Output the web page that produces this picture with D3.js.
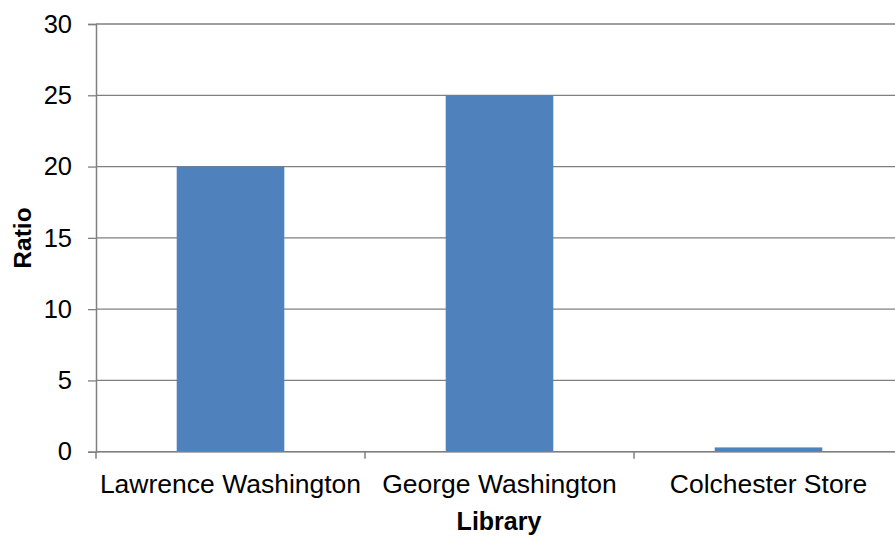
<!DOCTYPE html>
<html>
<head>
<meta charset="utf-8">
<script src="https://cdn.jsdelivr.net/npm/d3@7"></script>
<style>
  html, body { margin: 0; padding: 0; background: #fff; overflow: hidden; }
  svg { display: block; font-family: "Liberation Sans", Arial, sans-serif; }
</style>
</head>
<body>
<svg id="chart" width="895" height="536"></svg>
<script>
// Library holdings ratio by collection
const libraries = ["Lawrence Washington", "George Washington", "Colchester Store"];
const ratios = [20, 25, 0.3];
const yTicks = [0, 5, 10, 15, 20, 25, 30];

const svg = d3.select("#chart");
const plotLeft = 96, plotRight = 903, plotTop = 24, plotBottom = 451.7;

const x = d3.scaleBand()
  .domain(libraries)
  .range([plotLeft, plotRight])
  .paddingInner(0.6)
  .paddingOuter(0.3);

const y = d3.scaleLinear().domain([0, 30]).range([plotBottom, plotTop]);

const gridColor = "#808080";

// horizontal gridlines
svg.append("g")
  .selectAll("line")
  .data(yTicks)
  .join("line")
  .attr("x1", plotLeft)
  .attr("x2", plotRight)
  .attr("y1", d => y(d))
  .attr("y2", d => y(d))
  .attr("stroke", gridColor)
  .attr("stroke-width", 1.3);

// bars
svg.append("g")
  .selectAll("rect")
  .data(libraries.map((name, i) => ({ name, value: ratios[i] })))
  .join("rect")
  .attr("x", d => x(d.name))
  .attr("width", x.bandwidth())
  .attr("y", d => y(d.value))
  .attr("height", d => y(0) - y(d.value))
  .attr("fill", "#4F81BD");

// y axis
const yAxis = svg.append("g")
  .attr("transform", `translate(${plotLeft},0)`)
  .call(d3.axisLeft(y).tickValues(yTicks).tickSize(8).tickPadding(16));
yAxis.select(".domain").attr("stroke", gridColor).attr("stroke-width", 1.5);
yAxis.selectAll(".tick line").attr("stroke", gridColor).attr("stroke-width", 1.3);
yAxis.selectAll(".tick text")
  .attr("font-size", 25.5)
  .attr("font-family", "Liberation Sans, Arial, sans-serif")
  .attr("fill", "#000");

// x axis: boundary ticks between categories
const step = x.step();
const boundaries = d3.range(libraries.length + 1).map(i => plotLeft + i * step);
svg.append("g")
  .selectAll("line")
  .data(boundaries)
  .join("line")
  .attr("x1", d => d)
  .attr("x2", d => d)
  .attr("y1", plotBottom)
  .attr("y2", plotBottom + 7)
  .attr("stroke", gridColor)
  .attr("stroke-width", 1.5);

svg.append("line")
  .attr("x1", plotLeft).attr("x2", plotRight)
  .attr("y1", plotBottom).attr("y2", plotBottom)
  .attr("stroke", gridColor).attr("stroke-width", 1.5);

svg.append("g")
  .selectAll("text")
  .data(libraries)
  .join("text")
  .attr("x", d => x(d) + x.bandwidth() / 2)
  .attr("y", 493)
  .attr("text-anchor", "middle")
  .attr("font-size", 26.5)
  .attr("fill", "#000")
  .text(d => d);

// axis titles
svg.append("text")
  .attr("x", 499)
  .attr("y", 530)
  .attr("text-anchor", "middle")
  .attr("font-size", 25)
  .attr("font-weight", "bold")
  .text("Library");

svg.append("text")
  .attr("transform", "translate(31,238) rotate(-90)")
  .attr("text-anchor", "middle")
  .attr("font-size", 24.5)
  .attr("font-weight", "bold")
  .text("Ratio");
</script>
</body>
</html>
